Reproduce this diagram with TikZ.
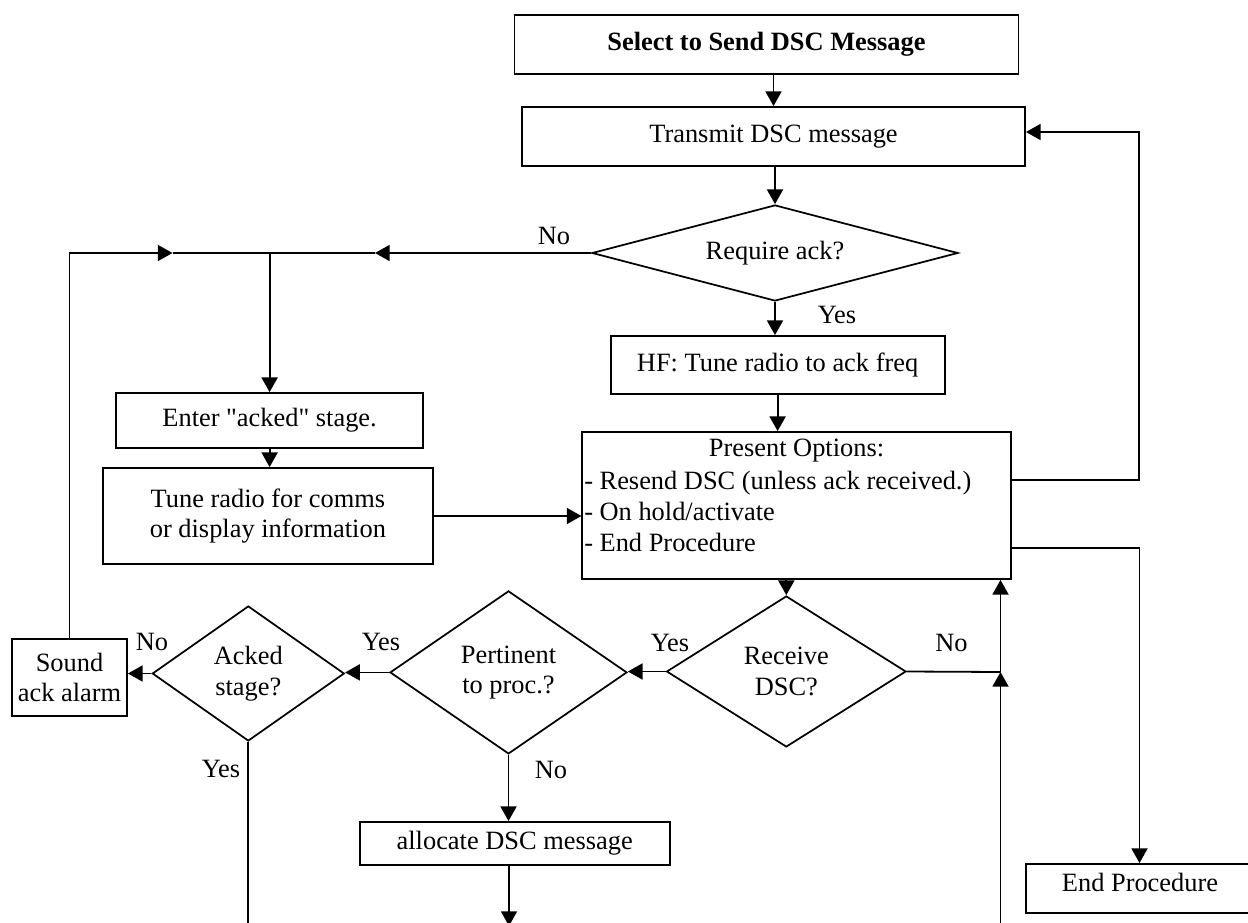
\documentclass[tikz,border=0pt]{standalone}
\usepackage{fontspec}
\setmainfont{Liberation Serif}
\usetikzlibrary{shapes.geometric,arrows.meta}
\newcommand{\straightquote}{{\XeTeXglyph\XeTeXglyphindex "quotedbl" }}
\begin{document}
\begin{tikzpicture}[x=0.75pt,y=-0.75pt,
  every node/.style={font=\fontsize{19.8pt}{23pt}\selectfont},
  box/.style={draw, line width=1.4pt, inner sep=0pt, align=center},
  dia/.style={draw, diamond, line width=1.3pt, inner sep=0pt, align=center},
  lbl/.style={inner sep=0pt},
  line/.style={line width=1.35pt},
  arr/.style={line width=1.35pt, -{Triangle[length=11pt,width=12pt]}},
]
\useasboundingbox (0,0) rectangle (1248,923);

% nodes
\node[box, minimum width=378pt, minimum height=44.25pt, font=\fontsize{19.8pt}{23pt}\selectfont\bfseries] (sel) at (766.5,44.5) {Select to Send DSC Message};
\node[box, minimum width=377.25pt, minimum height=44.25pt] (tx) at (773.5,136.5) {Transmit DSC message};
\node[dia, aspect=3.8, minimum width=274.5pt, minimum height=72pt] (req) at (775,253) {Require ack?};
\node[box, minimum width=250.5pt, minimum height=43.5pt] (hf) at (777.6,365) {HF: Tune radio to ack freq};
\node[box, minimum width=321.5pt, minimum height=110.25pt] (pres) at (796.7,505.5) {};
\node[lbl] (ptitle) at (796.5,451) {Present Options:};
\node[lbl, anchor=west, align=left] (plist) at (584,511.5) {- Resend DSC (unless ack received.)\\- On hold/activate\\- End Procedure};
\node[box, minimum width=230pt, minimum height=41pt] (enter) at (269.6,420.4) {Enter \straightquote acked\straightquote\ stage.};
\node[box, minimum width=248pt, minimum height=72pt] (tune) at (267.9,516) {Tune radio for comms\\or display information};
\node[dia, aspect=1.59, minimum width=179.6pt, minimum height=113.25pt] (recv) at (786.3,671.5) {Receive\\DSC?};
\node[dia, aspect=1.45, minimum width=177.75pt, minimum height=122.25pt] (pert) at (508.5,672.4) {Pertinent\\to proc.?};
\node[dia, aspect=1.42, minimum width=144pt, minimum height=101.25pt] (acked) at (248.3,673.5) {Acked\\stage?};
\node[box, minimum width=86.25pt, minimum height=57.75pt] (sound) at (69.5,677.5) {Sound\\ack alarm};
\node[box, minimum width=232.3pt, minimum height=32.25pt] (alloc) at (514.7,843.5) {allocate DSC message};
\node[box, minimum width=171pt, minimum height=36.75pt, text depth=10pt] (endp) at (1140,888.5) {End Procedure};

% main flow
\draw[arr] (sel.south -| tx.north) -- (tx.north);
\draw[arr] (tx.south -| req.north) -- (req.north);
\draw[arr] (req.south) -- (req.south |- hf.north);
\node[lbl] (yes1) at (837,314.5) {Yes};
\draw[arr] (hf.south) -- (hf.south |- pres.north);

% No branch of Require ack
\coordinate (m1) at (375,253);
\coordinate (j1) at (enter.north |- req.west);
\draw[arr] (req.west) -- (m1);
\draw[arr] (m1) -- (j1) -- (enter.north);
\node[lbl] (no1) at (554,236) {No};
\coordinate (c1) at (sound.north |- req.west);
\coordinate (m2) at (172.5,253);
\draw[arr] (sound.north) -- (c1) -- (m2);
\draw[line] (m2) -- (j1);

\draw[arr] (enter.south) -- (enter.south |- tune.north);
\draw[arr] (tune.east) -- (tune.east -| pres.west);

% right loops
\coordinate (r1) at (1139,480);
\coordinate (r2) at (1139,132);
\draw[arr] (pres.east |- r1) -- (r1) -- (r2) -- (tx.east |- r2);
\coordinate (r3) at (1139.5,548);
\draw[arr] (pres.east |- r3) -- (r3) -- (r3 |- endp.north);

% lower part
\draw[arr] (pres.south -| recv.north) -- (recv.north);
\draw[arr] (recv.west) -- (recv.west -| pert.east);
\node[lbl] (yes2) at (670,643) {Yes};
\draw[arr] (pert.west) -- (pert.west -| acked.east);
\node[lbl] (yes3) at (381,642) {Yes};
\draw[arr] (acked.west) -- (acked.west -| sound.east);
\node[lbl] (no2) at (152,642) {No};
\coordinate (b1) at (248.3,923);
\draw[line] (acked.south) -- (b1);
\node[lbl] (yes4) at (221,769) {Yes};
\draw[arr] (pert.south) -- (pert.south |- alloc.north);
\node[lbl] (no3) at (551,770) {No};
\coordinate (b2) at (509,926);
\draw[arr] (alloc.south -| b2) -- (b2);
\coordinate (j2) at (1000.5,672);
\draw[line] (recv.east) -- (j2);
\node[lbl] (no4) at (951.5,643) {No};
\coordinate (b3) at (1000.5,923);
\draw[arr] (b3) -- (j2);
\draw[arr] (j2) -- (j2 |- pres.south);
\end{tikzpicture}
\end{document}
